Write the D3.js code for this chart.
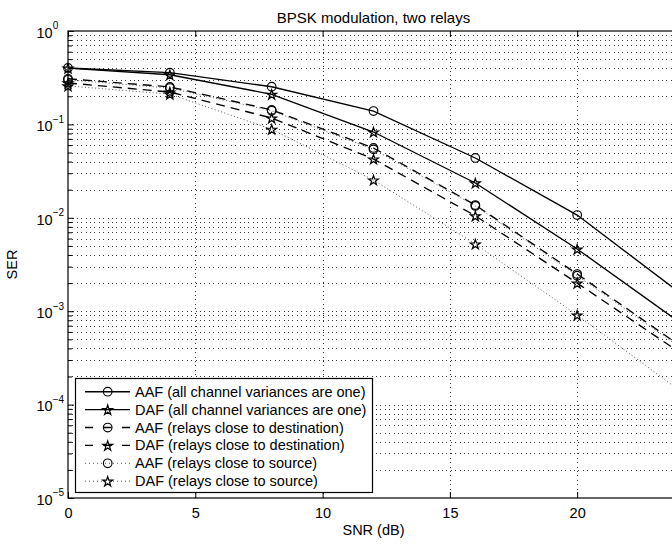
<!DOCTYPE html>
<html><head><meta charset="utf-8">
<script src="https://cdn.jsdelivr.net/npm/d3@7"></script>
<style>body{margin:0;background:#fff;overflow:hidden} svg{display:block} text{font-family:"Liberation Sans",Arial,sans-serif;fill:#000}</style>
</head><body><svg id="c" width="672" height="545"></svg>
<script>
// ---- data ----
const snr = [0, 4, 8, 12, 16, 20, 24];
const aafAllOne = [0.402, 0.358, 0.253, 0.139, 0.0437, 0.0107, 0.0016];
const dafAllOne = [0.400, 0.340, 0.210, 0.0829, 0.0236, 0.00463, 0.00077];
const aafDest   = [0.308, 0.252, 0.143, 0.0559, 0.0137, 0.0025, 0.000435];
const dafDest   = [0.278, 0.222, 0.117, 0.0426, 0.0105, 0.0020, 0.000366];
const aafSource = [0.300, 0.245, 0.140, 0.054, 0.0134, 0.0024, 0.00042];
const dafSource = [0.258, 0.211, 0.0887, 0.0254, 0.00524, 0.00091, 0.000143];
const seriesNames = [
  "AAF (all channel variances are one)",
  "DAF (all channel variances are one)",
  "AAF (relays close to destination)",
  "DAF (relays close to destination)",
  "AAF (relays close to source)",
  "DAF (relays close to source)"
];
const seriesValues = [aafAllOne, dafAllOne, aafDest, dafDest, aafSource, dafSource];
const seriesMarker = ["circle", "star", "circle", "star", "circle", "star"];
const seriesStyle  = ["solid", "solid", "dashed", "dashed", "dotted", "dotted"];
const xTicks = [0, 5, 10, 15, 20];
const yTickExps = [0, -1, -2, -3, -4, -5];
const titleText = "BPSK modulation, two relays";
const xLabelText = "SNR (dB)";
const yLabelText = "SER";

// ---- layout ----
const L = 68, T = 31, R = 679, B = 498;
const FS = 14.5;
const svg = d3.select("#c");
const x = d3.scaleLinear().domain([0, 24]).range([L, R]);
const y = d3.scaleLog().domain([1e-5, 1]).range([B, T]);

svg.append("rect").attr("width", 672).attr("height", 545).attr("fill", "#fff");

// grid (dotted)
const grid = svg.append("g").attr("stroke", "#3a3a3a").attr("stroke-width", 1)
  .attr("stroke-dasharray", "1,3.4").attr("shape-rendering", "crispEdges");
const minorY = [];
yTickExps.forEach(e => { if (e > -5) for (let k = 1; k <= 9; k++) minorY.push(k * Math.pow(10, e - 1)); });
const gridY = minorY.filter(v => v > 1e-5 * 1.0001);
grid.selectAll("line.h").data(gridY).join("line")
  .attr("x1", L).attr("x2", R).attr("y1", d => Math.round(y(d)) + 0.5).attr("y2", d => Math.round(y(d)) + 0.5);
grid.selectAll("line.v").data(xTicks.filter(t => t > 0)).join("line")
  .attr("y1", T).attr("y2", B).attr("x1", d => Math.round(x(d)) + 0.5).attr("x2", d => Math.round(x(d)) + 0.5);

const dashFor = s => s === "dashed" ? "9,6" : s === "dotted" ? "1,2.4" : null;
const line = d3.line().x(d => x(d[0])).y(d => y(d[1]));
const plot = svg.append("g");
const starSym = d3.symbol().type(d3.symbolStar).size(30);

function drawMarker(g, type, cx, cy) {
  if (type === "circle") {
    g.append("circle").attr("cx", cx).attr("cy", cy).attr("r", 4.3)
      .attr("fill", "none").attr("stroke", "#000").attr("stroke-width", 1.15);
  } else {
    g.append("path").attr("d", starSym()).attr("transform", `translate(${cx},${cy + 0.6})`)
      .attr("fill", "none").attr("stroke", "#000").attr("stroke-width", 1.2);
  }
}

seriesValues.forEach((vals, i) => {
  const pts = snr.map((s, j) => [s, vals[j]]);
  plot.append("path").attr("d", line(pts)).attr("fill", "none")
    .attr("stroke", seriesStyle[i] === "dotted" ? "#555" : "#000")
    .attr("stroke-width", seriesStyle[i] === "dotted" ? 1 : 1.35)
    .attr("stroke-dasharray", dashFor(seriesStyle[i]));
  pts.forEach(p => drawMarker(plot, seriesMarker[i], x(p[0]), y(p[1])));
});

// axes
const xAxis = d3.axisBottom(x).tickValues(xTicks).tickSize(-6).tickPadding(10).tickFormat(d3.format("d"));
const gx = svg.append("g").attr("transform", `translate(0,${B})`).call(xAxis);
gx.select(".domain").remove();
gx.selectAll("text").attr("font-size", FS).attr("font-family", "Liberation Sans, Arial, sans-serif").attr("dy", "0.71em");
gx.selectAll("line").attr("stroke", "#000");
const xAxisTop = d3.axisTop(x).tickValues(xTicks).tickSize(-6).tickFormat("");
const gxt = svg.append("g").attr("transform", `translate(0,${T})`).call(xAxisTop);
gxt.select(".domain").remove();
gxt.selectAll("line").attr("stroke", "#000");

const yMinor = minorY.filter(v => Math.abs(Math.log10(v) - Math.round(Math.log10(v))) > 1e-6);
const yAxisMinor = d3.axisLeft(y).tickValues(yMinor).tickSize(-4).tickFormat("");
const gyMinor = svg.append("g").attr("transform", `translate(${L},0)`).call(yAxisMinor);
gyMinor.select(".domain").remove();
gyMinor.selectAll("line").attr("stroke", "#000");
const yAxis = d3.axisLeft(y).tickValues(yTickExps.map(e => Math.pow(10, e))).tickSize(-6).tickFormat("");
const gy = svg.append("g").attr("transform", `translate(${L},0)`).call(yAxis);
gy.select(".domain").remove();
gy.selectAll("line").attr("stroke", "#000");
yTickExps.forEach(e => {
  const t = svg.append("text").attr("x", 36.5).attr("y", y(Math.pow(10, e)) + 6.8)
    .attr("text-anchor", "start").attr("font-size", FS);
  t.append("tspan").text("10");
  t.append("tspan").attr("dy", -8.5).attr("font-size", 10).text(e === 0 ? "0" : "\u2212" + Math.abs(e));
});
svg.append("rect").attr("x", L).attr("y", T).attr("width", R - L).attr("height", B - T)
  .attr("fill", "none").attr("stroke", "#000").attr("stroke-width", 1.2);

// labels
svg.append("text").attr("x", (L + R) / 2).attr("y", 23).attr("text-anchor", "middle").attr("font-size", 15).text(titleText);
svg.append("text").attr("x", (L + R) / 2).attr("y", 535).attr("text-anchor", "middle").attr("font-size", FS).text(xLabelText);
svg.append("text").attr("transform", `translate(17,${(T + B) / 2}) rotate(-90)`).attr("text-anchor", "middle").attr("font-size", FS).text(yLabelText);

// legend
const lg = svg.append("g");
const lx = 75.5, ly = 378.5, lw = 297, lh = 114, rowH = 17.9;
lg.append("rect").attr("x", lx).attr("y", ly).attr("width", lw).attr("height", lh)
  .attr("fill", "#fff").attr("stroke", "#000").attr("stroke-width", 1.2);
seriesNames.forEach((name, i) => {
  const cy = ly + 13.2 + i * rowH;
  lg.append("line").attr("x1", 85).attr("x2", 130).attr("y1", cy).attr("y2", cy)
    .attr("stroke", seriesStyle[i] === "dotted" ? "#555" : "#000")
    .attr("stroke-width", seriesStyle[i] === "dotted" ? 1 : 1.35)
    .attr("stroke-dasharray", seriesStyle[i] === "dashed" ? "8,10.5" : seriesStyle[i] === "dotted" ? "1,3" : null);
  drawMarker(lg, seriesMarker[i], 107.7, cy);
  lg.append("text").attr("x", 135).attr("y", cy + 5).attr("font-size", FS).text(name);
});
</script></body></html>
